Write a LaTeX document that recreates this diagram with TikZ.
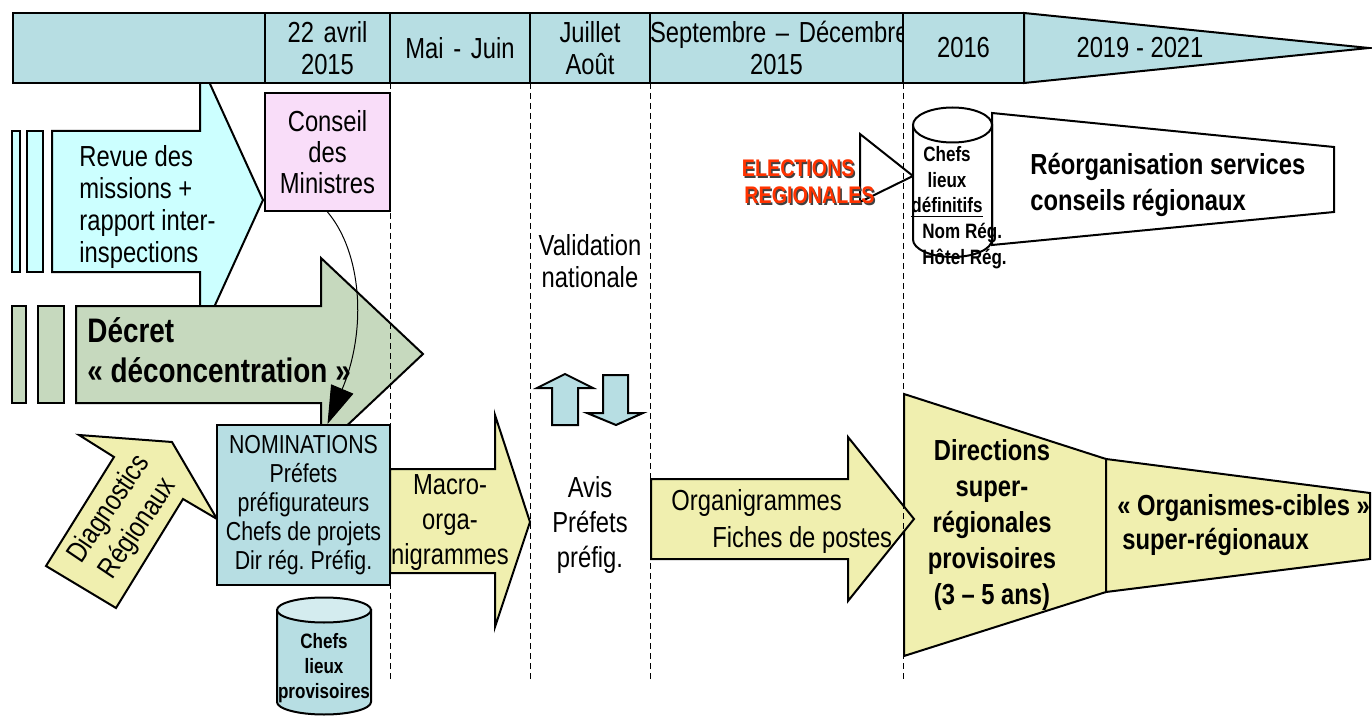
\documentclass[tikz,border=0pt]{standalone}
\usepackage{fontspec}
\setmainfont{Liberation Sans}[FakeStretch=0.82]
\usepackage{xcolor}
\usepackage{tikz}
\usetikzlibrary{shapes.geometric, arrows.meta, positioning}

\definecolor{bandblue}{RGB}{183,222,227}
\definecolor{revcyan}{RGB}{204,255,255}
\definecolor{decgreen}{RGB}{198,217,190}
\definecolor{cmpink}{RGB}{249,221,249}
\definecolor{orgyellow}{RGB}{240,239,175}
\definecolor{cyltop}{RGB}{212,236,239}
\definecolor{elecred}{RGB}{255,51,0}

\frenchspacing

\begin{document}
\begin{tikzpicture}[x=0.5pt, y=-0.5pt, font=\fontsize{14.5}{16}\selectfont]
    % Styles
    \tikzstyle{cell} = [rectangle, draw, line width=1pt, fill=bandblue, minimum height=35pt, inner xsep=0pt, inner ysep=0pt, outer sep=0pt, align=center]
    \tikzstyle{blk} = [draw, line width=1pt, line join=miter]
    \tikzstyle{box} = [rectangle, draw, line width=1pt, align=center, inner sep=0pt]
    \tikzstyle{lbl} = [inner sep=0pt, align=center]
    \tikzstyle{vline} = [draw, line width=0.5pt, dash pattern=on 3pt off 2pt]

    \useasboundingbox (0,0) rectangle (1372,717);

    % --- REVUE DES MISSIONS (under the time band) ---
    \filldraw[blk, fill=revcyan] (12,131) rectangle (20,272);
    \filldraw[blk, fill=revcyan] (27,131) rectangle (43,272);
    \filldraw[blk, fill=revcyan] (52,131) -- (200,131) -- (200,62) -- (263,200) -- (200,338) -- (200,272) -- (52,272) -- cycle;
    \node[lbl, align=left, anchor=west] (revue) at (79,207) {Revue des\\missions +\\rapport inter-\\inspections};

    % --- TIME BAND ---
    \node[cell, text width=126pt, anchor=north west] (c0) at (13,13) {};
    \node[cell, text width=62.5pt, right=0pt of c0] (c1) {22 avril\\2015};
    \node[cell, text width=70pt, right=0pt of c1] (c2) {Mai - Juin};
    \node[cell, text width=60pt, right=0pt of c2] (c3) {Juillet\\Août};
    \node[cell, text width=126.5pt, right=0pt of c3] (c4) {\mbox{Septembre – Décembre}\\2015};
    \node[cell, text width=60.5pt, right=0pt of c4] (c5) {2016};
    \filldraw[blk, fill=bandblue] (c5.north east) -- (1369,48) -- (c5.south east) -- cycle;
    \node[lbl] (c6) at (1140,48) {2019 - 2021};

    % --- DECRET ---
    \filldraw[blk, fill=decgreen] (12,306) rectangle (26,403);
    \filldraw[blk, fill=decgreen] (38,306) rectangle (64,403);
    \filldraw[blk, fill=decgreen] (76,306) -- (321,306) -- (321,258) -- (423,354) -- (321,450) -- (321,403) -- (76,403) -- cycle;
    \node[lbl, align=left, anchor=west, font=\bfseries\fontsize{17}{20}\selectfont] (decret) at (87,350) {Décret\\« déconcentration »};

    % --- CONSEIL / NOMINATIONS ---
    \node[box, fill=cmpink, minimum width=62.5pt, minimum height=59pt, font=\fontsize{14.5}{15.5}\selectfont] (conseil) at (327.5,152) {Conseil\\des\\Ministres};
    \filldraw[blk, fill=orgyellow] (79,435) -- (172,442) -- (217,519) -- (183,499) -- (116,608) -- (46,566) -- (114,457) -- cycle;
    \node[lbl, rotate=56, font=\fontsize{14.5}{17.5}\selectfont] (diag) at (124,519) {Diagnostics\\Régionaux};
    \node[box, fill=bandblue, minimum width=86.5pt, minimum height=80pt, font=\fontsize{13}{14.5}\selectfont] (nomin) at (303.5,505) {NOMINATIONS\\Préfets\\préfigurateurs\\Chefs de projets\\Dir rég. Préfig.};
    \draw[line width=0.5pt, -{Triangle[length=19pt, width=12pt]}] (conseil.south) .. controls +(34,40) and +(40,-95) .. (conseil.south |- nomin.north);

    % chefs-lieux provisoires (cylinder)
    \filldraw[blk, fill=bandblue] (277,610) -- (277,702) arc[start angle=180, end angle=360, x radius=23.5pt, y radius=6.25pt] -- (371,610) -- cycle;
    \filldraw[blk, fill=cyltop] (324,610) ellipse[x radius=23.5pt, y radius=6.25pt];
    \node[lbl, font=\bfseries\fontsize{10.4}{12.5}\selectfont] (provtxt) at (324,668) {Chefs\\lieux\\provisoires};

    % --- MACRO-ORGANIGRAMMES / VALIDATION ---
    \filldraw[blk, fill=orgyellow] (390,469) -- (495,469) -- (495,415) -- (530,522) -- (495,627) -- (495,573) -- (390,573) -- cycle;
    \node[lbl, font=\fontsize{14.5}{17.5}\selectfont] (macro) at (450,523) {Macro-\\orga-\\nigrammes};
    \node[lbl] (valid) at (590,261) {Validation\\nationale};
    \filldraw[blk, fill=bandblue] (552,425) -- (552,388) -- (537,388) -- (565,374) -- (593,388) -- (578,388) -- (578,425) -- cycle;
    \filldraw[blk, fill=bandblue] (603,375) -- (628,375) -- (628,413) -- (643,413) -- (616,425) -- (587,413) -- (603,413) -- cycle;
    \node[lbl, font=\fontsize{14.5}{17.5}\selectfont] (avis) at (590,525) {Avis\\Préfets\\préfig.};

    % --- SUPER-REGIONAL BODIES ---
    \filldraw[blk, fill=orgyellow] (904,394) -- (1106,459) -- (1106,592) -- (904,656) -- cycle;
    \filldraw[blk, fill=orgyellow] (1106,459) -- (1370,493) -- (1370,559) -- (1106,592) -- cycle;
    \filldraw[blk, fill=orgyellow] (651,479) -- (848,479) -- (848,437) -- (914,519) -- (848,601) -- (848,559) -- (651,559) -- cycle;
    \node[lbl, align=left, anchor=west, font=\fontsize{14.5}{18.5}\selectfont] (organi) at (671,521) {Organigrammes\\\hspace*{20.5pt}Fiches de postes};
    \node[lbl, font=\bfseries\fontsize{14.5}{18}\selectfont] (direc) at (992,525) {Directions\\super-\\régionales\\provisoires\\(3 – 5 ans)};
    \node[lbl, align=left, anchor=west, font=\bfseries\fontsize{14.5}{17}\selectfont] (cibles) at (1117,525) {« Organismes-cibles »\\\hspace*{2.5pt}super-régionaux};

    % --- ELECTIONS / CONSEILS REGIONAUX ---
    \filldraw[blk, fill=white] (860,134) -- (913,176) -- (860,202) -- cycle;
    \node[lbl, align=right, anchor=east, text=black!75, font=\bfseries\fontsize{12}{13.5}\selectfont] (elecshd) at (876.5,183.5) {ELECTIONS\hspace*{10pt}\\REGIONALES};
    \node[lbl, align=right, anchor=east, text=elecred, font=\bfseries\fontsize{12}{13.5}\selectfont] (elec) at (875,182) {ELECTIONS\hspace*{10pt}\\REGIONALES};
    \filldraw[blk, fill=white] (992,113) -- (1334,147) -- (1334,212) -- (992,245) -- cycle;
    \node[lbl, align=left, anchor=west, font=\bfseries\fontsize{14.5}{18}\selectfont] (reorg) at (1030,185) {Réorganisation services\\conseils régionaux};

    % chefs-lieux definitifs (cylinder)
    \filldraw[blk, fill=white] (913,125) -- (913,239.5) arc[start angle=180, end angle=360, x radius=19.75pt, y radius=8.75pt] -- (992,125) -- cycle;
    \filldraw[blk, fill=white] (952.5,125) ellipse[x radius=19.75pt, y radius=8.75pt];
    \node[lbl, font=\bfseries\fontsize{10.4}{12.75}\selectfont] (deftxt) at (947,182) {Chefs\\lieux\\\underline{définitifs}};
    \node[lbl, align=left, anchor=west, font=\bfseries\fontsize{10.4}{12.75}\selectfont] (regtxt) at (922,246) {Nom Rég.\\Hôtel Rég.};

    % --- PERIOD SEPARATORS ---
    \foreach \c in {c1,c2,c3,c4}
        \draw[vline] (\c.south east) -- ++(0,597);

\end{tikzpicture}
\end{document}
